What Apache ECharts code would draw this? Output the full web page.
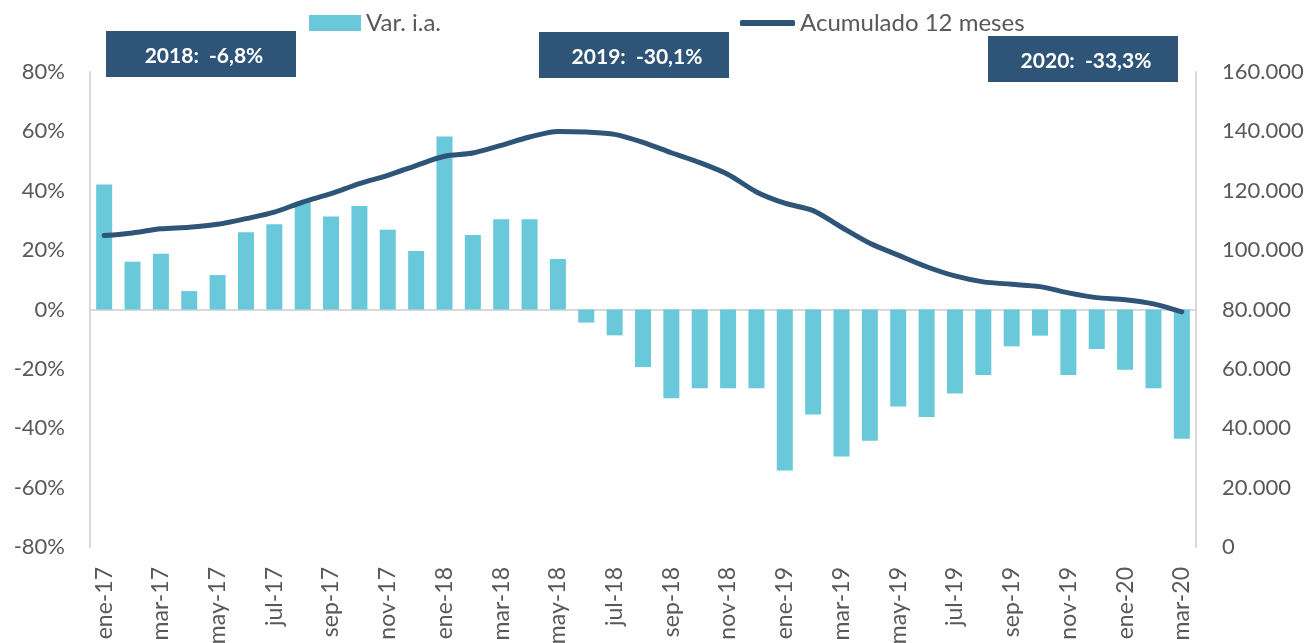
<!DOCTYPE html>
<html>
<head>
<meta charset="utf-8">
<title>Var. i.a. y acumulado 12 meses</title>
<script src="https://cdn.jsdelivr.net/npm/echarts@6/dist/echarts.min.js"></script>
<style>
    html, body { margin: 0; padding: 0; background: #fff; }
    #chart { width: 1312px; height: 643px; }
</style>
</head>
<body>
<div id="chart"></div>
<script>
    // meses (ene-17 .. mar-20)
    var meses = [
        'ene-17', 'feb-17', 'mar-17', 'abr-17', 'may-17', 'jun-17', 'jul-17', 'ago-17', 'sep-17', 'oct-17', 'nov-17', 'dic-17',
        'ene-18', 'feb-18', 'mar-18', 'abr-18', 'may-18', 'jun-18', 'jul-18', 'ago-18', 'sep-18', 'oct-18', 'nov-18', 'dic-18',
        'ene-19', 'feb-19', 'mar-19', 'abr-19', 'may-19', 'jun-19', 'jul-19', 'ago-19', 'sep-19', 'oct-19', 'nov-19', 'dic-19',
        'ene-20', 'feb-20', 'mar-20'
    ]

    // variacion interanual, en %
    var varIA = [
        42.1, 16.1, 18.8, 6.2, 11.6, 26.0, 28.7, 36.3, 31.3, 34.9, 26.9, 19.7,
        58.3, 25.1, 30.4, 30.4, 17.0, -4.4, -8.7, -19.4, -29.9, -26.5, -26.5, -26.5,
        -54.2, -35.4, -49.5, -44.2, -32.7, -36.2, -28.3, -22.1, -12.4, -8.8, -22.1, -13.3,
        -20.3, -26.5, -43.5
    ]

    // acumulado 12 meses
    var acumulado = [
        104900, 105800, 107200, 107700, 108700, 110600, 112800, 116200, 119000, 122400, 125200, 128500,
        131600, 132700, 135300, 138100, 140000, 139800, 139000, 136300, 132800, 129500, 125500, 119600,
        115800, 113300, 107700, 102300, 98300, 94400, 91300, 89300, 88500, 87700, 85600, 84000,
        83300, 81900, 79200
    ]

    // recuadros con la variacion anual
    var recuadros = ['2018:  -6,8%', '2019:  -30,1%', '2020:  -33,3%']

    var fuente = 'Lato, "Open Sans", sans-serif'
    var gris = '#595959'
    var azul = '#2e5577'
    var celeste = '#69c8da'

    function miles(v) {
        return String(v).replace(/\B(?=(\d{3})+(?!\d))/g, '.')
    }

    function caja(x, y, texto) {
        return {
            type: 'group',
            left: x,
            top: y,
            children: [
                {
                    type: 'rect',
                    shape: { x: 0, y: 0, width: 190, height: 46 },
                    style: { fill: azul }
                },
                {
                    type: 'text',
                    x: 98,
                    y: 25,
                    style: {
                        text: texto,
                        fill: '#fff',
                        font: 'bold 21px ' + fuente,
                        align: 'center',
                        verticalAlign: 'middle'
                    }
                }
            ]
        }
    }

    var myChart = echarts.init(document.getElementById('chart'))

    var option = {
        backgroundColor: '#fff',
        animation: false,
        textStyle: { fontFamily: fuente },
        legend: [
            {
                left: 304,
                top: 6,
                itemWidth: 52,
                itemHeight: 16,
                itemGap: 0,
                textStyle: { color: gris, fontSize: 24, fontFamily: fuente },
                data: [{ name: 'Var. i.a.', icon: 'rect' }]
            },
            {
                left: 735,
                top: 6,
                itemWidth: 55,
                itemHeight: 6,
                textStyle: { color: gris, fontSize: 24, fontFamily: fuente },
                data: [{ name: 'Acumulado 12 meses', icon: 'roundRect' }]
            }
        ],
        grid: {
            left: 90,
            right: 116,
            top: 72,
            bottom: 96,
            containLabel: false,
            outerBoundsMode: 'none'
        },
        xAxis: {
            type: 'category',
            data: meses,
            axisLine: { show: true, lineStyle: { color: '#d9d9d9', width: 2 } },
            axisTick: { show: false },
            axisLabel: {
                interval: 1,
                rotate: 90,
                margin: 20,
                color: gris,
                fontSize: 23,
                fontFamily: fuente
            }
        },
        yAxis: [
            {
                type: 'value',
                min: -80,
                max: 80,
                interval: 20,
                axisLine: { show: true, lineStyle: { color: '#d9d9d9', width: 2 } },
                axisTick: { show: false },
                splitLine: { show: false },
                axisLabel: {
                    margin: 25,
                    color: gris,
                    fontSize: 22,
                    fontFamily: fuente,
                    formatter: function (v) { return v + '%' }
                }
            },
            {
                type: 'value',
                min: 0,
                max: 160000,
                interval: 20000,
                axisLine: { show: true, lineStyle: { color: '#d9d9d9', width: 2 } },
                axisTick: { show: false },
                splitLine: { show: false },
                axisLabel: {
                    margin: 26,
                    color: gris,
                    fontSize: 22,
                    fontFamily: fuente,
                    formatter: function (v) { return miles(v) }
                }
            }
        ],
        series: [
            {
                name: 'Var. i.a.',
                type: 'bar',
                data: varIA,
                barWidth: 16,
                itemStyle: { color: celeste }
            },
            {
                name: 'Acumulado 12 meses',
                type: 'line',
                yAxisIndex: 1,
                data: acumulado,
                smooth: 0.3,
                symbol: 'none',
                z: 5,
                lineStyle: { color: azul, width: 5, cap: 'round' },
                itemStyle: { color: azul }
            }
        ],
        graphic: [
            caja(106, 31, recuadros[0]),
            caja(539, 32, recuadros[1]),
            caja(988, 36, recuadros[2])
        ]
    }

    myChart.setOption(option)
</script>
</body>
</html>
